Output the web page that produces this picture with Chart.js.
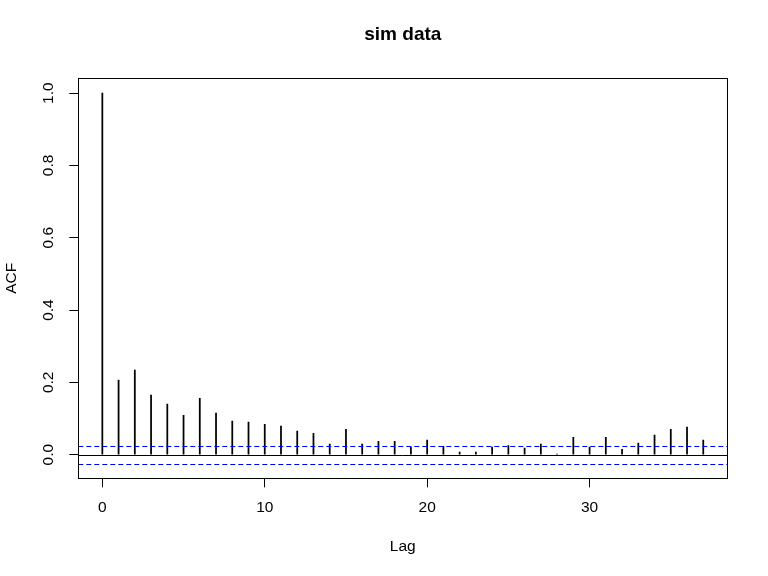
<!DOCTYPE html>
<html lang="en">
<head>
  <meta charset="UTF-8">
  <title>sim data</title>
  <script src="https://cdn.jsdelivr.net/npm/chart.js@4"></script>
  <style>
    html, body {
      margin: 0;
      padding: 0;
      background: #ffffff;
    }
    canvas {
      display: block;
    }
  </style>
</head>
<body>

  <canvas id="acfChart" width="768" height="576"></canvas>

  <script>
    // ACF estimates
    const lags = [0, 1, 2, 3, 4, 5, 6, 7, 8, 9, 10, 11, 12, 13, 14, 15, 16, 17, 18,
                  19, 20, 21, 22, 23, 24, 25, 26, 27, 28, 29, 30, 31, 32, 33, 34, 35, 36, 37];
    const acf = [1.000, 0.206, 0.234, 0.165, 0.140, 0.109, 0.156, 0.115, 0.093, 0.090,
                 0.084, 0.079, 0.065, 0.059, 0.029, 0.070, 0.029, 0.037, 0.037, 0.021,
                 0.040, 0.023, 0.007, 0.007, 0.021, 0.025, 0.018, 0.029, 0.001, 0.048,
                 0.021, 0.048, 0.015, 0.032, 0.054, 0.070, 0.076, 0.040];
    const clim = 0.025;   // confidence bound

    const xTicks = [0, 10, 20, 30];
    const yTicks = [0, 0.2, 0.4, 0.6, 0.8, 1.0];
    const yTickLabels = ['0.0', '0.2', '0.4', '0.6', '0.8', '1.0'];

    // horizontal reference lines: zero and +/- bound
    const hLines = [0, clim, -clim];
    const hColors = ['#000000', '#0000ff', '#0000ff'];
    const hDashed = [false, true, true];

    const xMin = -1.48, xMax = 38.48;
    const yMin = -0.0654, yMax = 1.041;

    const FONT = '"Liberation Sans", Arial, sans-serif';

    // R-style box plus abline()-like lines, snapped to whole pixels
    const boxPlugin = {
      id: 'box',
      afterDatasetsDraw(chart) {
        const { ctx, chartArea: a, scales } = chart;
        ctx.save();
        ctx.lineWidth = 1;
        hLines.forEach((v, i) => {
          const y = Math.round(scales.y.getPixelForValue(v)) + 0.5;
          ctx.strokeStyle = hColors[i];
          ctx.setLineDash(hDashed[i] ? [5, 3] : []);
          ctx.beginPath();
          ctx.moveTo(a.left, y);
          ctx.lineTo(a.right, y);
          ctx.stroke();
        });
        ctx.setLineDash([]);
        ctx.strokeStyle = '#000';
        const l = Math.round(a.left) + 0.5, t = Math.round(a.top) + 0.5;
        const r = Math.round(a.right) + 0.5, b = Math.round(a.bottom) + 0.5;
        ctx.strokeRect(l, t, r - l, b - t);
        ctx.restore();
      }
    };

    new Chart(document.getElementById('acfChart'), {
      type: 'bar',
      data: {
        datasets: [{
          data: lags.map((l, i) => ({ x: l, y: acf[i] })),
          backgroundColor: '#000',
          borderWidth: 0,
          barThickness: 1.1
        }]
      },
      options: {
        responsive: false,
        animation: false,
        layout: { padding: { left: 0, right: 40.7, top: 0, bottom: 0 } },
        plugins: {
          legend: { display: false },
          tooltip: { enabled: false },
          title: {
            display: true,
            text: 'sim data',
            fullSize: false,
            color: '#000',
            font: { family: FONT, size: 19, weight: 'bold' },
            padding: { top: 23.6, bottom: 31.9 }
          }
        },
        scales: {
          x: {
            type: 'linear',
            min: xMin,
            max: xMax,
            offset: false,
            afterBuildTicks: (s) => { s.ticks = xTicks.map(v => ({ value: v })); },
            afterFit: (s) => { s.height = 97.7; },
            border: { display: false },
            grid: {
              offset: false,
              drawOnChartArea: false,
              drawTicks: true,
              tickLength: 9,
              tickColor: '#000',
              tickWidth: 1
            },
            ticks: {
              color: '#000',
              padding: 10.7,
              maxRotation: 0,
              autoSkip: false,
              font: { family: FONT, size: 15.5 }
            },
            title: {
              display: true,
              text: 'Lag',
              color: '#000',
              font: { family: FONT, size: 15.5 },
              padding: { top: 0, bottom: 20.2 }
            }
          },
          y: {
            min: yMin,
            max: yMax,
            afterBuildTicks: (s) => { s.ticks = yTicks.map(v => ({ value: v })); },
            afterFit: (s) => { s.width = 78.3; },
            border: { display: false },
            grid: {
              drawOnChartArea: false,
              drawTicks: true,
              tickLength: 9,
              tickColor: '#000',
              tickWidth: 1
            },
            ticks: {
              color: '#000',
              padding: 9.5,
              minRotation: 90,
              maxRotation: 90,
              crossAlign: 'center',
              autoSkip: false,
              font: { family: FONT, size: 15.5 },
              callback: (v, i) => yTickLabels[i]
            },
            title: {
              display: true,
              text: 'ACF',
              color: '#000',
              font: { family: FONT, size: 15.5 },
              padding: { top: 2.7, bottom: 0 }
            }
          }
        }
      },
      plugins: [boxPlugin]
    });
  </script>

</body>
</html>
